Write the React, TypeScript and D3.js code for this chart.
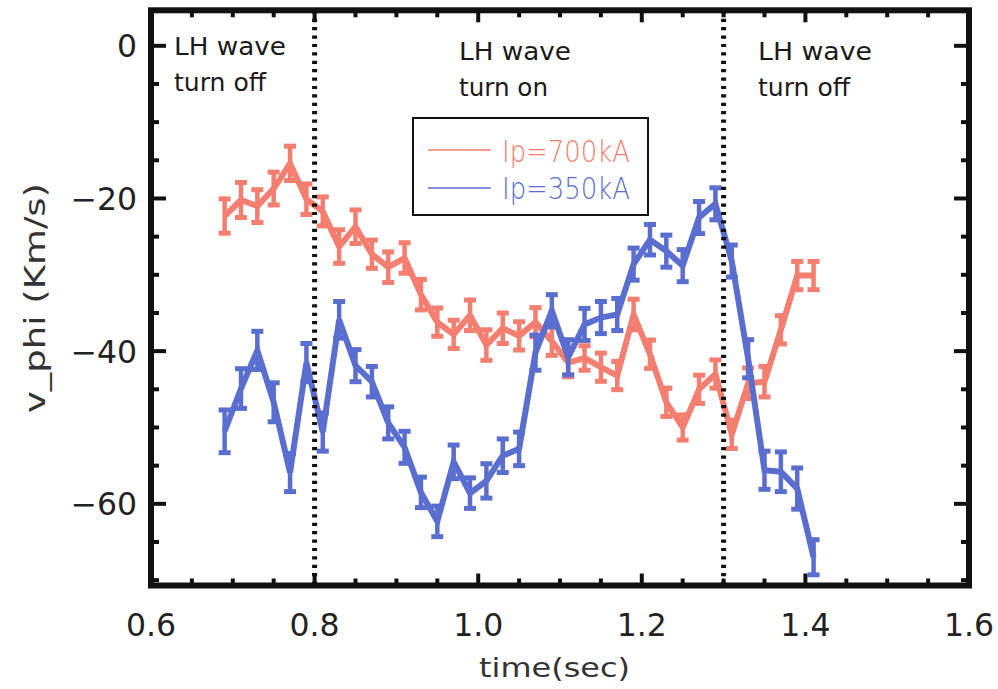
import React from "react";
import * as d3 from "d3";

const TIMES = [0.69, 0.71, 0.73, 0.75, 0.77, 0.79, 0.81, 0.83, 0.85, 0.87, 0.89, 0.91, 0.93, 0.95, 0.97, 0.99, 1.01, 1.03, 1.05, 1.07, 1.09, 1.11, 1.13, 1.15, 1.17, 1.19, 1.21, 1.23, 1.25, 1.27, 1.29, 1.31, 1.33, 1.35, 1.37, 1.39, 1.41];

const RED_VALUES = [-22.3, -20.2, -21.0, -18.7, -15.4, -20.1, -21.7, -26.3, -23.7, -27.3, -29.0, -27.8, -32.6, -36.2, -37.8, -35.3, -39.2, -37.0, -38.0, -36.2, -38.7, -41.5, -40.9, -42.1, -43.2, -35.2, -40.4, -46.7, -50.0, -45.0, -43.0, -50.9, -44.2, -44.0, -37.2, -30.1, -30.1];
const RED_ERRORS = [2.25, 2.3, 2.15, 2.15, 2.25, 2.0, 1.9, 2.2, 2.2, 1.85, 2.0, 2.0, 2.0, 1.85, 1.85, 2.0, 2.0, 2.0, 1.85, 1.9, 1.85, 1.85, 1.6, 1.85, 1.85, 2.0, 1.85, 1.85, 1.65, 1.85, 1.85, 1.85, 2.0, 2.0, 1.85, 1.85, 1.85];

const BLUE_VALUES = [-50.5, -44.9, -39.9, -46.7, -55.9, -41.5, -50.6, -35.9, -41.9, -44.0, -49.4, -52.6, -58.5, -62.3, -54.5, -58.6, -57.0, -53.7, -52.8, -40.2, -34.7, -40.8, -36.5, -35.6, -35.2, -28.6, -25.4, -26.9, -28.8, -22.5, -20.7, -28.2, -41.0, -55.6, -55.8, -58.0, -67.0];
const BLUE_ERRORS = [2.8, 2.6, 2.5, 2.55, 2.5, 2.5, 2.5, 2.4, 2.1, 2.0, 2.1, 2.1, 2.0, 2.0, 2.2, 2.0, 2.25, 2.2, 2.2, 2.3, 2.1, 2.3, 2.1, 2.1, 2.1, 2.1, 2.0, 2.1, 2.1, 2.1, 2.1, 2.1, 2.5, 2.5, 2.6, 2.7, 2.3];

const X_MAJOR_TICKS = [0.6, 0.8, 1.0, 1.2, 1.4, 1.6];
const X_MINOR_TICKS = [0.65, 0.7, 0.75, 0.85, 0.9, 0.95, 1.05, 1.1, 1.15, 1.25, 1.3, 1.35, 1.45, 1.5, 1.55];
const Y_MAJOR_TICKS = [0, -20, -40, -60];
const Y_MINOR_TICKS = [-5, -10, -15, -25, -30, -35, -45, -50, -55, -65, -70];
const MARKER_TIMES = [0.8, 1.3];

const SERIES_NAMES = ["Ip=700kA", "Ip=350kA"];
const ANNOTATIONS = [
  { t: 0.6, lines: ["LH wave", "turn off"] },
  { t: 0.8, lines: ["LH wave", "turn on"] },
  { t: 1.3, lines: ["LH wave", "turn off"] },
];

const RED = "#f47e70";
const BLUE = "#5a6ed0";
const FONT = "'DejaVu Sans', sans-serif";

const W = 998;
const H = 689;
const LEFT = 151;
const RIGHT = 969;
const TOP = 10.3;
const BOTTOM = 585.5;

const x = d3.scaleLinear().domain([0.6, 1.6]).range([LEFT, RIGHT]);
const y = d3.scaleLinear().domain([-70.7, 4.65]).range([BOTTOM, TOP]);

function Series({ values, errors, color }: { values: number[]; errors: number[]; color: string }) {
  const pts: [number, number][] = TIMES.map((t, i) => [t, values[i]]);
  const line = d3
    .line<[number, number]>()
    .x((d) => x(d[0]))
    .y((d) => y(d[1]));
  return (
    <g>
      <path d={line(pts) || ""} fill="none" stroke={color} strokeWidth={6} strokeLinejoin="miter" />
      {TIMES.map((t, i) => {
        const cx = x(t);
        const y1 = y(values[i] + errors[i]);
        const y2 = y(values[i] - errors[i]);
        return (
          <g key={i}>
            <line x1={cx} x2={cx} y1={y1} y2={y2} stroke={color} strokeWidth={4.5} />
            <line x1={cx - 6} x2={cx + 6} y1={y1} y2={y1} stroke={color} strokeWidth={5} />
            <line x1={cx - 6} x2={cx + 6} y1={y2} y2={y2} stroke={color} strokeWidth={5} />
          </g>
        );
      })}
    </g>
  );
}

export default function App() {
  const annX = [174, 459, 758];
  const annY = [[55, 90.5], [60, 96], [60, 96]];
  const annW = [[112, 92], [112, 89], [114, 92]];
  return (
    <svg
      width={W}
      height={H}
      viewBox={`0 0 ${W} ${H}`}
      style={{ position: "absolute", left: 0, top: 0, background: "#fff" }}
    >
      <rect x={0} y={0} width={W} height={H} fill="#fff" />

      {/* data */}
      <Series values={RED_VALUES} errors={RED_ERRORS} color={RED} />
      <Series values={BLUE_VALUES} errors={BLUE_ERRORS} color={BLUE} />

      {/* dotted marker lines */}
      {MARKER_TIMES.map((t) => (
        <line
          key={t}
          x1={x(t)}
          x2={x(t)}
          y1={TOP}
          y2={BOTTOM}
          stroke="#111"
          strokeWidth={5}
          strokeDasharray="3.2 5.2"
        />
      ))}

      {/* annotations */}
      {ANNOTATIONS.map((a, i) => (
        <g key={i}>
          {a.lines.map((s, j) => (
            <text
              key={j}
              x={annX[i]}
              y={annY[i][j]}
              fontFamily={FONT}
              fontSize={24}
              fill="#1a1a1a"
              textLength={annW[i][j]}
              lengthAdjust="spacingAndGlyphs"
            >
              {s}
            </text>
          ))}
        </g>
      ))}

      {/* legend */}
      <rect x={413} y={118} width={235} height={97} fill="#fff" stroke="#111" strokeWidth={2} />
      {SERIES_NAMES.map((name, i) => {
        const ly = [150, 188][i];
        const col = [RED, BLUE][i];
        return (
          <g key={name}>
            <line x1={428} x2={491} y1={ly} y2={ly} stroke={col} strokeWidth={1.5} />
            <text
              x={502}
              y={[162, 199][i]}
              fontFamily={FONT}
              fontWeight={200}
              fontSize={30}
              fill={col}
              textLength={128}
              lengthAdjust="spacingAndGlyphs"
            >
              {name}
            </text>
          </g>
        );
      })}

      {/* ticks */}
      {X_MAJOR_TICKS.map((t) => (
        <g key={"xM" + t}>
          <line x1={x(t)} x2={x(t)} y1={BOTTOM} y2={BOTTOM - 12} stroke="#111" strokeWidth={4} />
          <line x1={x(t)} x2={x(t)} y1={TOP} y2={TOP + 12} stroke="#111" strokeWidth={4} />
          <text x={x(t)} y={636} textAnchor="middle" fontFamily={FONT} fontSize={31.5} fill="#222">
            {d3.format(".1f")(t)}
          </text>
        </g>
      ))}
      {X_MINOR_TICKS.map((t) => (
        <g key={"xm" + t}>
          <line x1={x(t)} x2={x(t)} y1={BOTTOM} y2={BOTTOM - 7} stroke="#111" strokeWidth={4} />
          <line x1={x(t)} x2={x(t)} y1={TOP} y2={TOP + 7} stroke="#111" strokeWidth={4} />
        </g>
      ))}
      {Y_MAJOR_TICKS.map((v) => (
        <g key={"yM" + v}>
          <line x1={LEFT} x2={LEFT + 15} y1={y(v)} y2={y(v)} stroke="#111" strokeWidth={4} />
          <line x1={RIGHT} x2={RIGHT - 15} y1={y(v)} y2={y(v)} stroke="#111" strokeWidth={4} />
          <text x={137} y={y(v) + 11.5} textAnchor="end" fontFamily={FONT} fontSize={31.5} fill="#222">
            {v === 0 ? "0" : "\u2212" + Math.abs(v)}
          </text>
        </g>
      ))}
      {Y_MINOR_TICKS.map((v) => (
        <g key={"ym" + v}>
          <line x1={LEFT} x2={LEFT + 8} y1={y(v)} y2={y(v)} stroke="#111" strokeWidth={4} />
          <line x1={RIGHT} x2={RIGHT - 8} y1={y(v)} y2={y(v)} stroke="#111" strokeWidth={4} />
        </g>
      ))}

      {/* frame */}
      <rect
        x={LEFT}
        y={TOP}
        width={RIGHT - LEFT}
        height={BOTTOM - TOP}
        fill="none"
        stroke="#111"
        strokeWidth={6}
      />

      {/* axis titles */}
      <text
        x={554.5}
        y={677}
        textAnchor="middle"
        fontFamily={FONT}
        fontSize={27}
        fill="#333"
        textLength={151}
        lengthAdjust="spacingAndGlyphs"
      >
        time(sec)
      </text>
      <text
        transform={`translate(45,298) rotate(-90)`}
        textAnchor="middle"
        fontFamily={FONT}
        fontSize={29}
        fill="#333"
        textLength={230}
        lengthAdjust="spacingAndGlyphs"
      >
        v_phi (Km/s)
      </text>
    </svg>
  );
}
